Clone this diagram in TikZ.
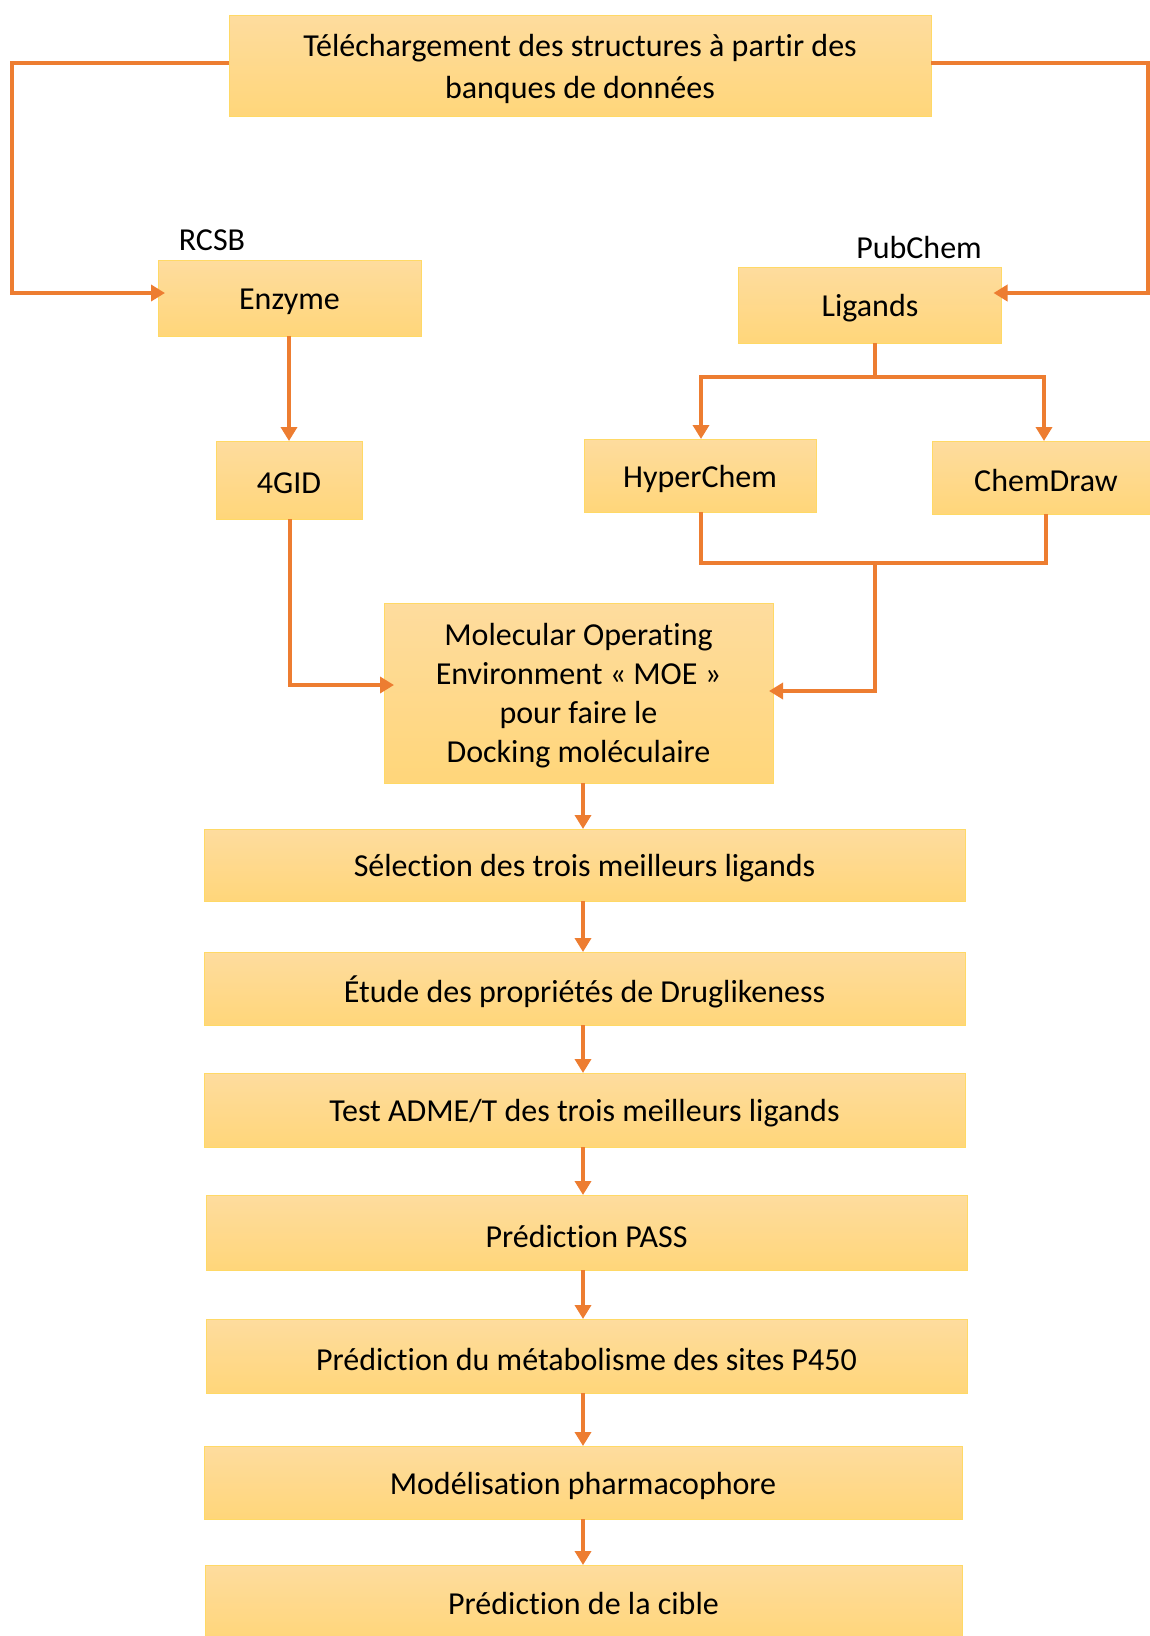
\documentclass[tikz,border=0pt]{standalone}
\usepackage{fontspec}
\setmainfont{Carlito}[Ligatures=NoCommon]
\usetikzlibrary{arrows.meta}
\definecolor{boxtop}{HTML}{FEDC9E}
\definecolor{boxbot}{HTML}{FFD67A}
\definecolor{boxline}{HTML}{FFD966}
\definecolor{arrorange}{HTML}{ED7D31}
\tikzset{
  box/.style={draw=boxline, line width=1pt, top color=boxtop, bottom color=boxbot,
    inner sep=0pt, outer sep=0pt},
  txt/.style={inner sep=0pt, align=center, text=black,
    font=\fontsize{32}{42}\selectfont},
  lbl/.style={inner sep=0pt, font=\fontsize{32}{38}\selectfont},
  link/.style={draw=arrorange, line width=3.5pt},
  arr/.style={link, -{Triangle[length=14pt,width=16pt]}}
}
\begin{document}
\begin{tikzpicture}[x=1pt,y=-1pt]
\useasboundingbox (0,0) rectangle (1150,1636);
% boxes
\node[box, minimum width=702pt, minimum height=101pt] (top) at (580,65.5) {};
\node[box, minimum width=263pt, minimum height=76pt] (enz) at (289.5,298) {};
\node[box, minimum width=263pt, minimum height=76pt] (lig) at (870,305) {};
\node[box, minimum width=146pt, minimum height=78pt] (gid) at (289,480) {};
\node[box, minimum width=232pt, minimum height=73pt] (hyp) at (700,475.5) {};
\node[box, minimum width=228pt, minimum height=73pt] (cdr) at (1046,477.5) {};
\node[box, minimum width=389pt, minimum height=180pt] (moe) at (578.5,693) {};
\node[box, minimum width=761pt, minimum height=72pt] (sel) at (584.5,865) {};
\node[box, minimum width=761pt, minimum height=73pt] (etu) at (584.5,988.5) {};
\node[box, minimum width=761pt, minimum height=74pt] (adm) at (584.5,1110) {};
\node[box, minimum width=761pt, minimum height=75pt] (pas) at (586.5,1232.5) {};
\node[box, minimum width=761pt, minimum height=74pt] (p45) at (586.5,1356) {};
\node[box, minimum width=758pt, minimum height=73pt] (mod) at (583,1482.5) {};
\node[box, minimum width=757pt, minimum height=75pt] (cib) at (583.5,1602.5) {};
% texts
\node[txt] (top-t) at ([yshift=-3pt]top.center)
  {Téléchargement des structures à partir des\\banques de données};
\node[txt] (enz-t) at ([yshift=-4pt]enz.center) {Enzyme};
\node[txt] (lig-t) at ([yshift=-3.5pt]lig.center) {Ligands};
\node[txt] (gid-t) at ([yshift=-3.5pt]gid.center) {4GID};
\node[txt] (hyp-t) at ([yshift=-3.5pt]hyp.center) {HyperChem};
\node[txt] (cdr-t) at ([yshift=-3.5pt]cdr.center) {ChemDraw};
\node[txt, font=\fontsize{32}{39}\selectfont] (moe-t) at ([yshift=-3pt]moe.center)
  {Molecular Operating\\Environment « MOE »\\pour faire le\\Docking moléculaire};
\node[txt] (sel-t) at ([yshift=-3.5pt]sel.center) {Sélection des trois meilleurs ligands};
\node[txt] (etu-t) at ([yshift=-3.5pt]etu.center) {Étude des propriétés de Druglikeness};
\node[txt] (adm-t) at ([yshift=-3.5pt]adm.center) {Test ADME/T des trois meilleurs ligands};
\node[txt] (pas-t) at ([yshift=-3.5pt]pas.center) {Prédiction PASS};
\node[txt] (p45-t) at ([yshift=-3.5pt]p45.center) {Prédiction du métabolisme des sites P450};
\node[txt] (mod-t) at ([yshift=-3.5pt]mod.center) {Modélisation pharmacophore};
\node[txt] (cib-t) at ([yshift=-1pt]cib.center) {Prédiction de la cible};
% labels
\node[lbl] (rcsb) at (212,240) {RCSB};
\node[lbl] (pubc) at (919,248) {PubChem};
% connectors
\draw[arr, shorten >=-7pt] (top.west |- 0,63) -- (12,63) -- (12,293) -- (enz.west |- 0,293);
\draw[arr, shorten >=-8pt] (top.east |- 0,63) -- (1148,63) -- (1148,293) -- (lig.east |- 0,293);
\draw[arr] (enz.south -| 289,0) -- (gid.north -| 289,0);
\draw[arr, shorten >=-10pt] (gid.south -| 290,0) -- (290,685) -- (moe.west |- 0,685);
\draw[link] (lig.south -| 875,0) -- (875,377);
\draw[arr] (875,377) -| (hyp.north -| 701,0);
\draw[arr] (875,377) -| (cdr.north -| 1044,0);
\draw[link] (hyp.south -| 701,0) -- (701,563) -| (cdr.south -| 1046,0);
\draw[arr, shorten >=-4pt] (875,563) -- (875,691) -- (moe.east |- 0,691);
\draw[arr] (moe.south -| 583,0) -- (sel.north -| 583,0);
\draw[arr] (sel.south -| 583,0) -- (etu.north -| 583,0);
\draw[arr] (etu.south -| 583,0) -- (adm.north -| 583,0);
\draw[arr] (adm.south -| 583,0) -- (pas.north -| 583,0);
\draw[arr] (pas.south -| 583,0) -- (p45.north -| 583,0);
\draw[arr] (p45.south -| 583,0) -- (mod.north -| 583,0);
\draw[arr] (mod.south -| 583,0) -- (cib.north -| 583,0);
\end{tikzpicture}
\end{document}
